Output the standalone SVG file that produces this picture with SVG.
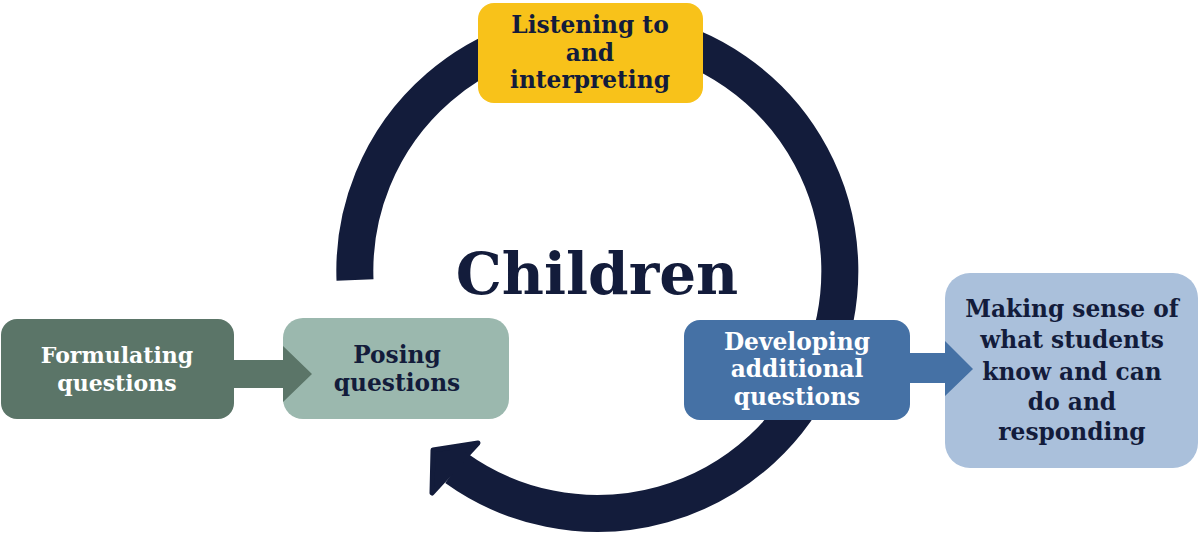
<svg xmlns="http://www.w3.org/2000/svg" width="1200" height="535" viewBox="0 0 1200 535">
<style>
.t{font-family:"DejaVu Serif","Liberation Serif",serif;font-weight:bold;font-size:23.3px;text-anchor:middle}
.s{font-size:22px}
.w{fill:#ffffff}
.n{fill:#131C3B}
</style>
<rect width="1200" height="535" fill="#ffffff"/>
<g id="connectors">
<path id="cycle" d="M 355 280 A 242.5 242.5 0 1 1 456 468" fill="none" stroke="#131C3B" stroke-width="37"/>
<polygon id="cycle-head" points="433,450 478,443 432,493" fill="#131C3B" stroke="#131C3B" stroke-width="5" stroke-linejoin="round"/>
</g>
<g id="listening">
<rect x="478" y="3" width="225" height="100" rx="16" fill="#F8C21A"/>
<text class="t n" x="590" y="33">Listening to</text>
<text class="t n" x="590" y="61">and</text>
<text class="t n" x="590" y="88">interpreting</text>
</g>
<g id="children">
<text x="597" y="294" style="font-family:'DejaVu Serif','Liberation Serif',serif;font-weight:bold;font-size:58px;text-anchor:middle" fill="#131C3B">Children</text>
</g>
<g id="posing">
<rect x="283" y="318" width="226" height="101" rx="20" fill="#9BB8AE"/>
<text class="t n" x="397" y="363">Posing</text>
<text class="t n" x="397" y="391">questions</text>
</g>
<g id="formulating">
<rect x="1" y="319" width="233" height="100" rx="16" fill="#5B7568"/>
<text class="t s w" x="117" y="363">Formulating</text>
<text class="t s w" x="117" y="391">questions</text>
</g>
<g id="connector-left">
<polygon points="230,360 283,360 283,346 312,374 283,402 283,388 230,388" fill="#5B7568"/>
</g>
<g id="making-sense">
<rect x="945" y="273" width="253" height="195" rx="25" fill="#AAC0DB"/>
<text class="t n" x="1072" y="317">Making sense of</text>
<text class="t n" x="1072" y="348">what students</text>
<text class="t n" x="1072" y="380">know and can</text>
<text class="t n" x="1072" y="410">do and</text>
<text class="t n" x="1072" y="440">responding</text>
</g>
<g id="developing">
<rect x="684" y="320" width="226" height="100" rx="16" fill="#4571A5"/>
<text class="t w" x="797" y="350">Developing</text>
<text class="t w" x="797" y="377">additional</text>
<text class="t w" x="797" y="405">questions</text>
</g>
<g id="connector-right">
<polygon points="906,353 945,353 945,341 973,369 945,396 945,383 906,383" fill="#4571A5"/>
</g>
</svg>
